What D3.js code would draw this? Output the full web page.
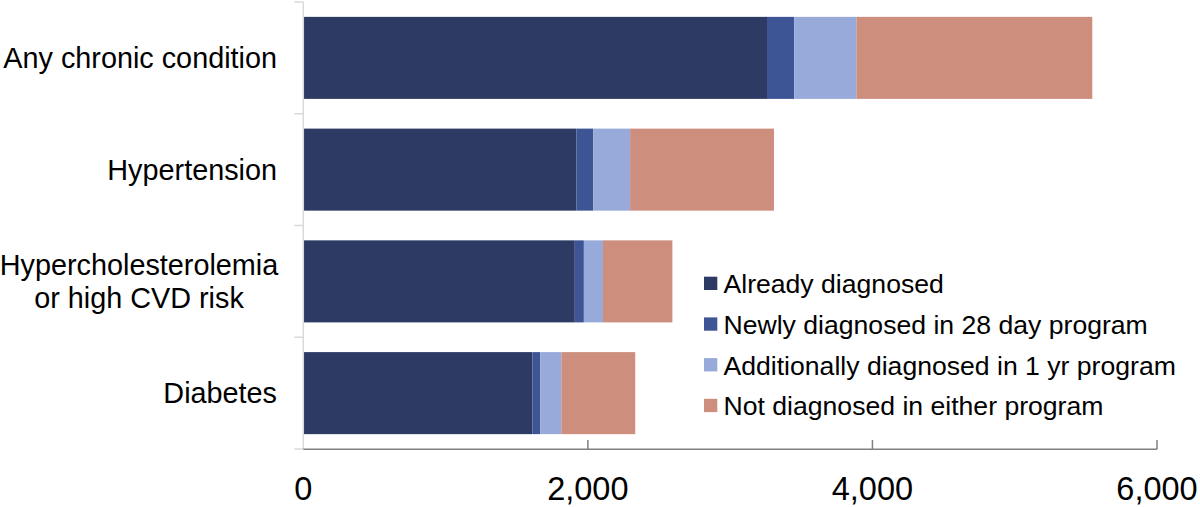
<!DOCTYPE html>
<html>
<head>
<meta charset="utf-8">
<script src="https://cdn.jsdelivr.net/npm/d3@7"></script>
<style>
  body { margin: 0; background: #fff; }
  svg { display: block; font-family: "Liberation Sans", Arial, sans-serif; }
</style>
</head>
<body>
<div id="chart"></div>
<script>
// chart data
const categories = ['Any chronic condition', 'Hypertension', 'Hypercholesterolemia|or high CVD risk', 'Diabetes'];
const alreadyDiagnosed = [3259, 1919, 1908, 1610];
const newlyDiagnosed = [192, 118, 64, 56];
const additionallyDiagnosed = [436, 260, 134, 148];
const notDiagnosed = [1658, 1011, 488, 519];
const seriesNames = ['Already diagnosed', 'Newly diagnosed in 28 day program', 'Additionally diagnosed in 1 yr program', 'Not diagnosed in either program'];
const seriesColors = ['#2d3a63', '#3d5595', '#97aad9', '#cd8e7e'];
const xTicks = [0, 2000, 4000, 6000];

const width = 1200;
const height = 507;

const svg = d3.select('#chart')
    .append('svg')
    .attr('width', width)
    .attr('height', height);

// table for the stack layout
const rows = categories.map(function(c, i) {
    return { cat: c, s0: alreadyDiagnosed[i], s1: newlyDiagnosed[i], s2: additionallyDiagnosed[i], s3: notDiagnosed[i] };
});
const keys = ['s0', 's1', 's2', 's3'];
const stacked = d3.stack().keys(keys)(rows);

const x = d3.scaleLinear().domain([0, 6000]).range([303.3, 1157]);
const y = d3.scaleBand().domain(categories).range([2, 449]).paddingInner(0.266).paddingOuter(0.133);

// bars
svg.append('g').selectAll('g')
    .data(stacked)
    .join('g')
    .attr('fill', function(d, i) { return seriesColors[i]; })
    .selectAll('rect')
    .data(function(d) { return d; })
    .join('rect')
    .attr('x', function(d) { return x(d[0]); })
    .attr('y', function(d) { return y(d.data.cat); })
    .attr('width', function(d) { return x(d[1]) - x(d[0]); })
    .attr('height', y.bandwidth());

// category axis: light line with ticks at band edges
const leftAxis = svg.append('g').attr('class', 'left-axis');
leftAxis.append('line')
    .attr('x1', x(0)).attr('x2', x(0))
    .attr('y1', 2).attr('y2', 449)
    .attr('stroke', '#d9d9d9').attr('stroke-width', 1.5);
const edges = categories.map(function(c) { return y(c) - y.step() * y.paddingInner() / 2; }).concat([449]);
leftAxis.selectAll('line.tick')
    .data(edges)
    .join('line')
    .attr('class', 'tick')
    .attr('x1', x(0) - 9).attr('x2', x(0))
    .attr('y1', function(d) { return d; }).attr('y2', function(d) { return d; })
    .attr('stroke', '#d9d9d9').attr('stroke-width', 1.5);

// category labels
const labels = svg.append('g').attr('class', 'cat-labels');
categories.forEach(function(c) {
    const lines = c.split('|');
    const cy = y(c) + y.bandwidth() / 2;
    const fs = 28.8;
    const lineGap = 32.3;
    if (lines.length === 1) {
        labels.append('text')
            .attr('x', 277)
            .attr('y', cy + 10.3)
            .attr('text-anchor', 'end')
            .attr('font-size', fs)
            .attr('fill', '#000')
            .text(c);
    } else {
        // two line label, lines centred on each other
        const t = labels.append('text')
            .attr('text-anchor', 'middle')
            .attr('font-size', fs)
            .attr('fill', '#000');
        lines.forEach(function(l, i) {
            t.append('tspan')
                .attr('x', 139)
                .attr('y', cy - 6 + i * lineGap)
                .text(l);
        });
    }
});

// value axis at the bottom
const bottomAxis = svg.append('g').attr('class', 'bottom-axis');
bottomAxis.append('line')
    .attr('x1', x(0)).attr('x2', x(6000))
    .attr('y1', 449.3).attr('y2', 449.3)
    .attr('stroke', '#808080').attr('stroke-width', 1.5);
bottomAxis.selectAll('line.tick')
    .data(xTicks.slice(1))
    .join('line')
    .attr('class', 'tick')
    .attr('x1', function(d) { return x(d); }).attr('x2', function(d) { return x(d); })
    .attr('y1', 440).attr('y2', 449.3)
    .attr('stroke', '#808080').attr('stroke-width', 1.5);
bottomAxis.selectAll('text')
    .data(xTicks)
    .join('text')
    .attr('x', function(d) { return x(d); })
    .attr('y', 500)
    .attr('text-anchor', 'middle')
    .attr('font-size', 32.5)
    .attr('fill', '#000')
    .text(function(d) { return d3.format(',')(d); });

// legend
const legend = svg.append('g').attr('class', 'legend').attr('transform', 'translate(704, 0)');
const legendItems = legend.selectAll('g')
    .data(seriesNames)
    .join('g')
    .attr('transform', function(d, i) { return 'translate(0,' + (293.3 + i * 40.7) + ')'; });
legendItems.append('rect')
    .attr('x', 0).attr('y', -16.6)
    .attr('width', 13.3).attr('height', 13.3)
    .attr('fill', function(d, i) { return seriesColors[i]; });
legendItems.append('text')
    .attr('x', 19.5)
    .attr('y', 0)
    .attr('font-size', 26.6)
    .attr('fill', '#000')
    .text(function(d) { return d; });
</script>
</body>
</html>
